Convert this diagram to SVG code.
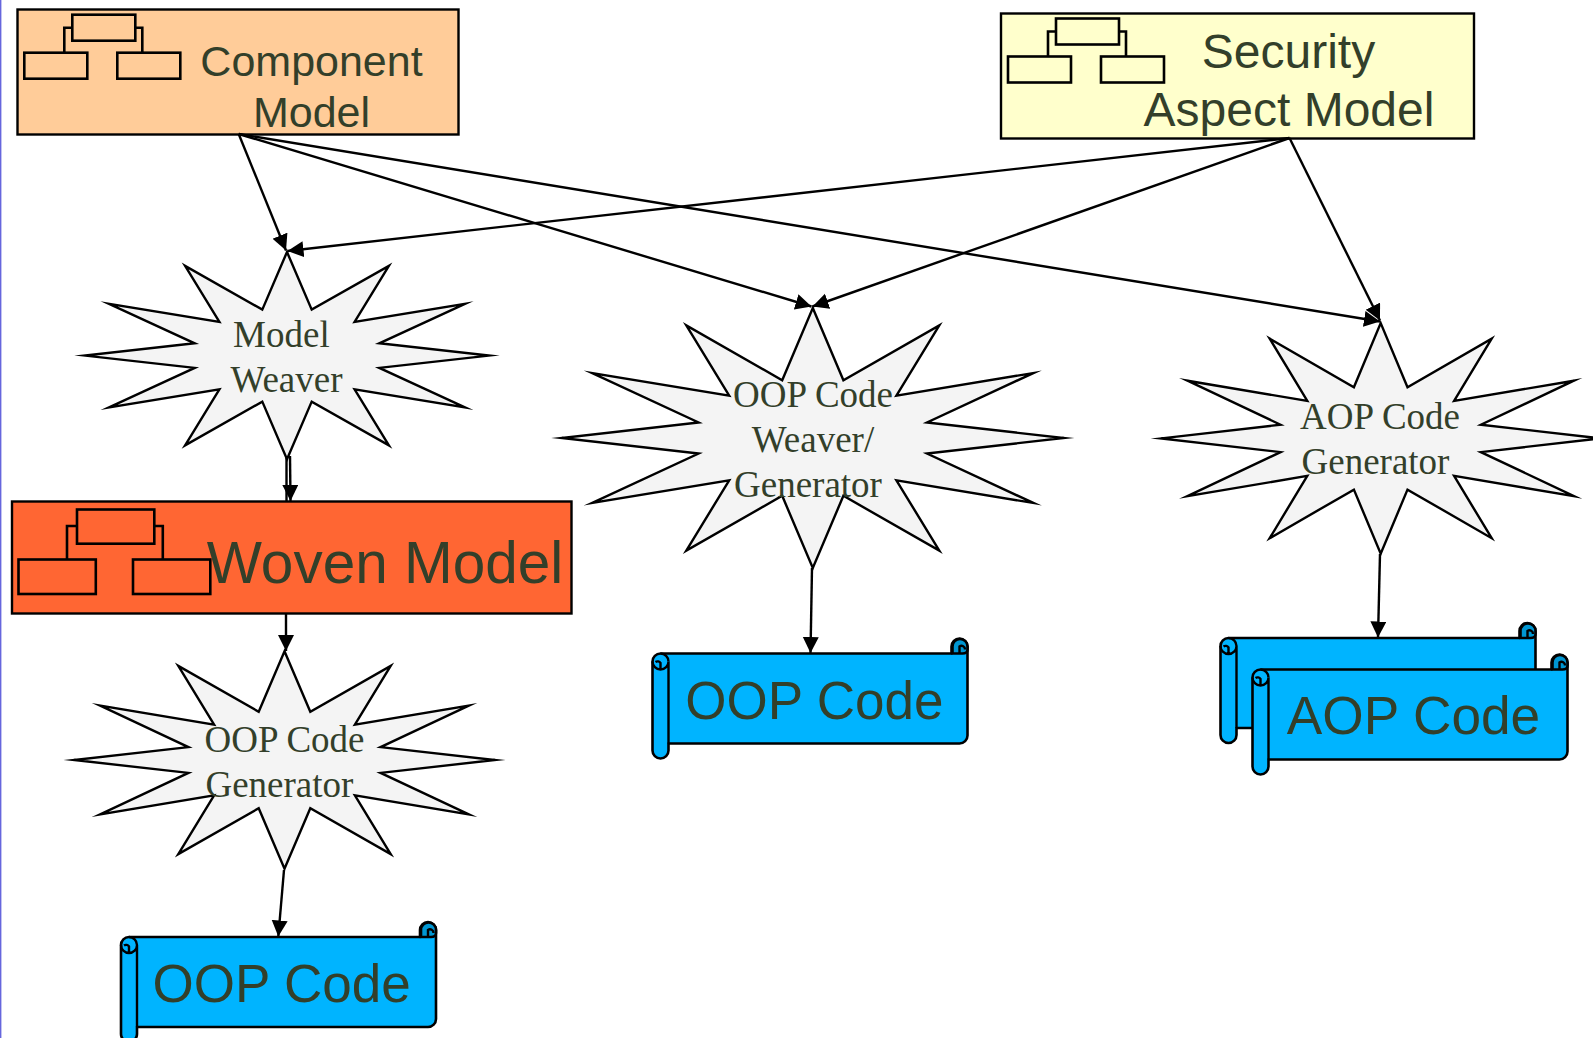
<svg xmlns="http://www.w3.org/2000/svg" width="1593" height="1038" viewBox="0 0 1593 1038">
<style>
.box{stroke:#000;stroke-width:2.4}
.ic{fill:none;stroke:#000;stroke-width:2.6}
.s{font-family:"Liberation Sans",Arial,sans-serif;fill:#333f2a;text-anchor:middle}
.r{font-family:"Liberation Serif","Times New Roman",serif;font-size:37px;fill:#333f2a;text-anchor:middle}
.star{fill:#f4f4f4;stroke:#000;stroke-width:2.4;stroke-miterlimit:20}
.c{fill:none;stroke:#000;stroke-width:2.4;marker-end:url(#arrow)}
.p{fill:none;stroke:#000;stroke-width:2.4}
.body{fill:#00b4ff;stroke:#000;stroke-width:2.6;stroke-linejoin:round}
.curl{fill:#0096d2;stroke:#000;stroke-width:2.6}
</style>
<defs>
<marker id="arrow" markerUnits="userSpaceOnUse" markerWidth="17" markerHeight="17" refX="16" refY="8" orient="auto"><path d="M0,0L16,8L0,16Z" fill="#000"/></marker>
<g id="scroll">
<path class="body" d="M8,0H299V-7a8,8 0 0 1 16,0V82a8,8 0 0 1 -8,8H16V97a8,8 0 0 1 -16,0V8a8,8 0 0 1 8,-8Z"/>
<path class="curl" d="M300,0V-7a7.5,7.5 0 0 1 15,0V-4q0,4 -5,4Z"/>
<path class="p" d="M307,0V-7a3.5,3.5 0 0 1 5.500,3"/>
<path class="p" d="M16,8a8,8 0 0 1 -16,0M16,8V90M8,16V9.500a3.500,3.500 0 0 0 -5,-1"/>
<path class="p" d="M8,0a8,8 0 0 1 8,8"/>
</g>
<g id="tree" class="ic">
<rect x="48" y="0" width="63" height="26"/>
<rect x="0" y="38" width="63" height="26"/>
<rect x="93" y="38" width="63" height="26"/>
<path d="M48,13H40V38M111,13H118V38"/>
</g>
</defs>
<rect x="0" y="0" width="1.4" height="1038" fill="#6666dd"/>
<g id="component-model">
<rect class="box" x="17.5" y="9.5" width="441" height="125" fill="#ffcc99"/>
<use href="#tree" x="24.3" y="14.7"/>
<text class="s" font-size="43" x="311.500" y="76">Component</text>
<text class="s" font-size="43" x="311.500" y="127">Model</text>
</g>
<g id="security-aspect-model">
<rect class="box" x="1001" y="13.5" width="473" height="125" fill="#ffffcc"/>
<use href="#tree" x="1008" y="18.5"/>
<text class="s" font-size="48" x="1288.500" y="68">Security</text>
<text class="s" font-size="48" x="1289" y="126">Aspect Model</text>
</g>
<g id="model-weaver">
<polygon class="star" transform="translate(287,355.6)" points="0,-103.6 24.7,-46 101.9,-89.7 67.6,-33.7 178,-51.8 92.3,-12.3 202,0 92.3,12.3 178,51.8 67.6,33.7 101.9,89.7 24.7,46 0,103.6 -24.7,46 -101.9,89.7 -67.6,33.7 -178,51.8 -92.3,12.3 -202,0 -92.3,-12.3 -178,-51.8 -67.6,-33.7 -101.9,-89.7 -24.7,-46"/>
<text class="r" x="281.4" y="347">Model</text>
<text class="r" x="286.5" y="392">Weaver</text>
</g>
<g id="oop-weaver">
<polygon class="star" transform="translate(812.8,438)" points="0,-130 30.6,-57.8 126.5,-112.6 83.6,-42.3 220.6,-65 114.2,-15.5 251,0 114.2,15.5 220.6,65 83.6,42.3 126.5,112.6 30.6,57.800 0,130 -30.6,57.800 -126.5,112.6 -83.6,42.3 -220.6,65 -114.2,15.5 -251,0 -114.2,-15.5 -220.6,-65 -83.6,-42.3 -126.5,-112.6 -30.6,-57.8"/>
<text class="r" x="813" y="407">OOP Code</text>
<text class="r" x="813" y="452">Weaver/</text>
<text class="r" x="808" y="497">Generator</text>
</g>
<g id="aop-generator">
<polygon class="star" transform="translate(1380.7,438.4)" points="0,-115.3 26.8,-51.2 111,-99.8 73.4,-37.5 193.3,-57.7 100.2,-13.7 219.5,0 100.2,13.7 193.3,57.7 73.4,37.5 111,99.8 26.8,51.2 0,115.3 -26.8,51.2 -111,99.8 -73.4,37.5 -193.3,57.7 -100.2,13.7 -219.5,0 -100.2,-13.7 -193.3,-57.7 -73.4,-37.5 -111,-99.8 -26.8,-51.2"/>
<text class="r" x="1380" y="429">AOP Code</text>
<text class="r" x="1375.500" y="474">Generator</text>
</g>
<g id="woven-model">
<rect class="box" x="12" y="501.5" width="559.5" height="112" fill="#ff6633"/>
<g class="ic">
<rect x="77" y="509.5" width="77.3" height="34.2"/>
<rect x="18.5" y="559.5" width="77.3" height="34.5"/>
<rect x="133" y="559.5" width="77.3" height="34.5"/>
<path d="M77,526H67V559.5M154.3,526H162.8V559.5"/>
</g>
<text class="s" font-size="58.5" x="385" y="583">Woven Model</text>
</g>
<g id="oop-generator">
<polygon class="star" transform="translate(284.5,760)" points="0,-108.7 25.8,-48.3 106.2,-94.1 70.4,-35.4 184.4,-54.4 96.1,-12.9 210.4,0 96.1,12.9 184.4,54.4 70.4,35.4 106.2,94.1 25.8,48.3 0,108.7 -25.8,48.3 -106.2,94.1 -70.4,35.4 -184.4,54.4 -96.1,12.9 -210.4,0 -96.1,-12.9 -184.4,-54.4 -70.4,-35.4 -106.2,-94.1 -25.8,-48.3"/>
<text class="r" x="284.5" y="752">OOP Code</text>
<text class="r" x="279.4" y="797">Generator</text>
</g>
<g id="oop-code-mid">
<use href="#scroll" x="652.5" y="653.5"/>
<text class="s" font-size="53" x="814.4" y="719">OOP Code</text>
</g>
<g id="oop-code-left">
<use href="#scroll" x="121" y="937"/>
<text class="s" font-size="53" x="281.6" y="1002">OOP Code</text>
</g>
<g id="aop-code">
<use href="#scroll" x="1220.5" y="638"/>
<use href="#scroll" x="1252.5" y="669.5"/>
<text class="s" font-size="53.2" x="1413.5" y="734">AOP Code</text>
</g>
<g id="connectors">
<line class="c" x1="238.7" y1="134" x2="286" y2="250.5"/>
<line class="c" x1="238.7" y1="134" x2="811.5" y2="306.5"/>
<line class="c" x1="238.7" y1="134" x2="1380" y2="321.5"/>
<line class="c" x1="1289.5" y1="138" x2="287.5" y2="251"/>
<line class="c" x1="1289.5" y1="138" x2="812.5" y2="306.5"/>
<line class="c" x1="1289.5" y1="138" x2="1380" y2="320.5"/>
<line class="p" x1="286.5" y1="458" x2="286.5" y2="501"/>
<line class="c" x1="290" y1="456" x2="290.5" y2="501"/>
<line class="c" x1="286" y1="614" x2="286" y2="651"/>
<line class="c" x1="284" y1="870" x2="278.3" y2="936.5"/>
<line class="c" x1="812" y1="568" x2="810.5" y2="653"/>
<line class="c" x1="1380" y1="554" x2="1378" y2="637.5"/>
</g>
</svg>
